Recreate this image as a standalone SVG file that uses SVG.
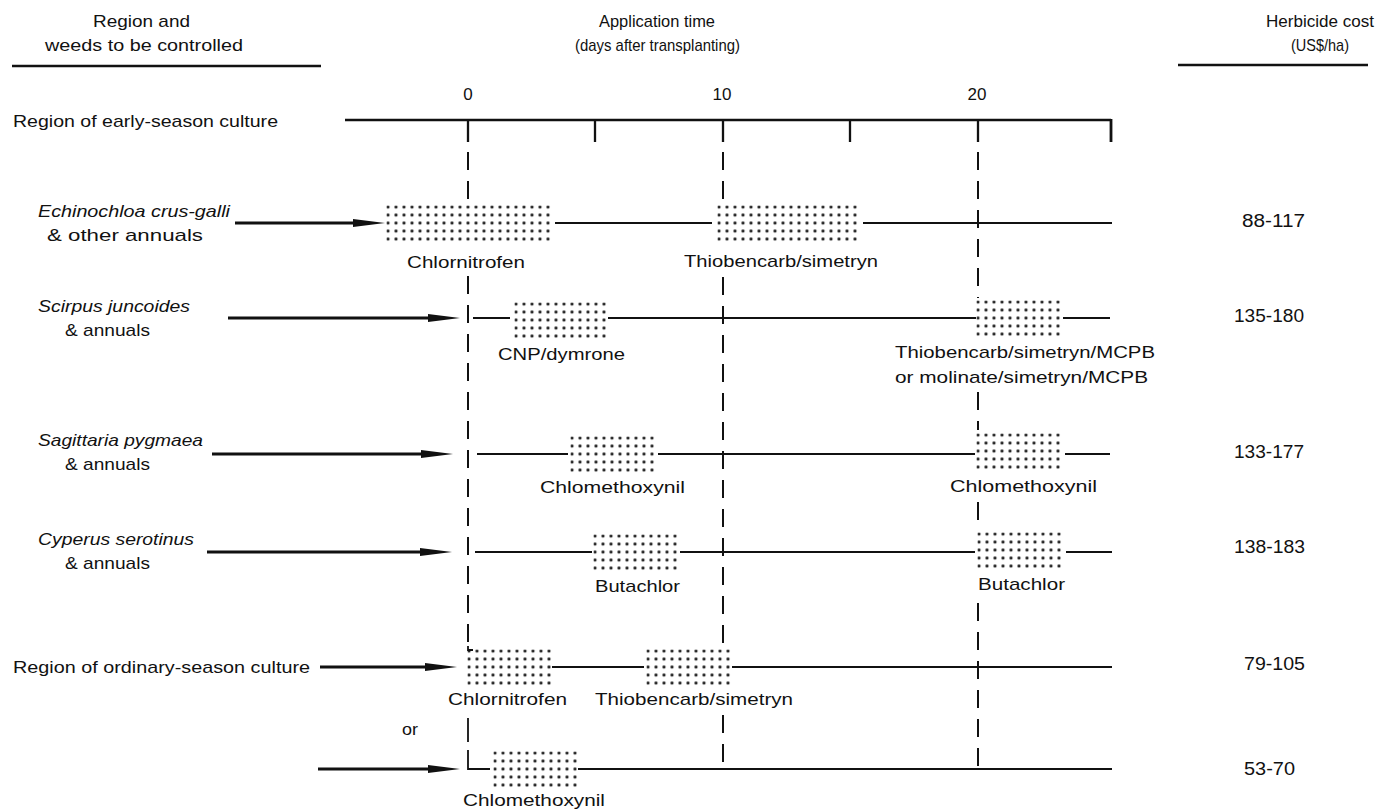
<svg xmlns="http://www.w3.org/2000/svg" width="1381" height="811" viewBox="0 0 1381 811">
<style>
text{font-family:"Liberation Sans",Arial,sans-serif;font-size:17px;fill:#111}
.it{font-style:italic}
.cost{font-size:18px}
.ln{stroke:#111;stroke-width:1.8;fill:none}
.ax{stroke:#111;stroke-width:2.3;fill:none}
.dash{stroke:#111;stroke-width:2;fill:none;stroke-dasharray:18 11}
.arr{stroke:#111;stroke-width:3;fill:none;marker-end:url(#ah)}
.dots{fill:url(#dp)}
</style>
<defs>
<pattern id="dp" patternUnits="userSpaceOnUse" width="8" height="8"><circle cx="1.6" cy="1.6" r="1.55" fill="#111"/></pattern>
<marker id="ah" markerUnits="userSpaceOnUse" markerWidth="36" markerHeight="12" refX="16" refY="5" orient="auto"><path d="M0,1 L32,5 L0,9 z" fill="#111"/></marker>
</defs>
<rect width="1381" height="811" fill="#fff"/>

<g id="header">
<text x="93" y="27" textLength="97" lengthAdjust="spacingAndGlyphs">Region and</text>
<text x="45" y="51" textLength="198" lengthAdjust="spacingAndGlyphs">weeds to be controlled</text>
<path class="ax" d="M12,66 H321"/>
<text x="599" y="27" textLength="116" lengthAdjust="spacingAndGlyphs">Application time</text>
<text x="575" y="51" textLength="165" lengthAdjust="spacingAndGlyphs">(days after transplanting)</text>
<text x="1266" y="27" textLength="108" lengthAdjust="spacingAndGlyphs">Herbicide cost</text>
<text x="1291" y="51" textLength="58" lengthAdjust="spacingAndGlyphs">(US$/ha)</text>
<path class="ax" d="M1178,65 H1368"/>
</g>

<g id="axis">
<text x="468" y="100" text-anchor="middle">0</text>
<text x="722" y="100" text-anchor="middle">10</text>
<text x="977" y="100" text-anchor="middle">20</text>
<path class="ax" d="M345,120 H1111 M468,120 V142 M595,120 V142 M723,120 V142 M850,120 V142 M978,120 V142"/>
<path d="M1111,119 V142" stroke="#111" stroke-width="2.8"/>
<text x="13" y="127" textLength="265" lengthAdjust="spacingAndGlyphs">Region of early-season culture</text>
</g>

<g id="connectors">
<path class="dash" d="M468,152 V205 M468,276 V646"/>
<path class="ln" d="M468,646 V650 H473"/>
<path class="ln" d="M468,718 V742 M468,750 V769 H490"/>
<path class="dash" d="M723,152 V204 M723,277 V648 M723,715 V769"/>
<path class="dash" d="M978,152 V298 M978,392 V430 M978,502 V530 M978,603 V769"/>
<path class="arr" d="M235,223 H369"/>
<path class="arr" d="M228,318 H444"/>
<path class="arr" d="M212,454 H437"/>
<path class="arr" d="M207,552 H436"/>
<path class="arr" d="M320,667 H441"/>
<path class="arr" d="M318,769 H444"/>
<path class="ln" d="M555,223 H712 M863,223 H1112"/>
<path class="ln" d="M473,318 H510 M608,318 H976 M1063,318 H1110"/>
<path class="ln" d="M477,454 H568 M658,454 H975 M1065,454 H1110"/>
<path class="ln" d="M475,552 H592 M680,552 H975 M1066,552 H1112"/>
<path class="ln" d="M552,667 H644 M732,667 H1112"/>
<path class="ln" d="M578,769 H1112"/>
</g>

<g id="weed-echinochloa">
<text class="it" x="38" y="217" textLength="192" lengthAdjust="spacingAndGlyphs">Echinochloa crus-galli</text>
<text x="47" y="241" textLength="156" lengthAdjust="spacingAndGlyphs">&amp; other annuals</text>
</g>
<g id="weed-scirpus">
<text class="it" x="38" y="312" textLength="152" lengthAdjust="spacingAndGlyphs">Scirpus juncoides</text>
<text x="65" y="336" textLength="85" lengthAdjust="spacingAndGlyphs">&amp; annuals</text>
</g>
<g id="weed-sagittaria">
<text class="it" x="38" y="446" textLength="165" lengthAdjust="spacingAndGlyphs">Sagittaria pygmaea</text>
<text x="65" y="470" textLength="85" lengthAdjust="spacingAndGlyphs">&amp; annuals</text>
</g>
<g id="weed-cyperus">
<text class="it" x="38" y="545" textLength="156" lengthAdjust="spacingAndGlyphs">Cyperus serotinus</text>
<text x="65" y="569" textLength="85" lengthAdjust="spacingAndGlyphs">&amp; annuals</text>
</g>
<g id="region-ordinary">
<text x="13" y="673" textLength="297" lengthAdjust="spacingAndGlyphs">Region of ordinary-season culture</text>
<text x="402" y="735" textLength="16" lengthAdjust="spacingAndGlyphs">or</text>
</g>

<g id="box-a1"><rect class="dots" transform="translate(386.4,205.4)" width="164" height="36"/>
<text x="407" y="268" textLength="118" lengthAdjust="spacingAndGlyphs">Chlornitrofen</text></g>
<g id="box-a2"><rect class="dots" transform="translate(717.4,205.4)" width="140" height="36"/>
<text x="684" y="267" textLength="194" lengthAdjust="spacingAndGlyphs">Thiobencarb/simetryn</text></g>
<g id="box-b1"><rect class="dots" transform="translate(514.4,302.4)" width="92" height="36"/>
<text x="498" y="360" textLength="127" lengthAdjust="spacingAndGlyphs">CNP/dymrone</text></g>
<g id="box-b2"><rect class="dots" transform="translate(976.4,300.4)" width="84" height="36"/>
<text x="895" y="358" textLength="260" lengthAdjust="spacingAndGlyphs">Thiobencarb/simetryn/MCPB</text>
<text x="895" y="383" textLength="253" lengthAdjust="spacingAndGlyphs">or molinate/simetryn/MCPB</text></g>
<g id="box-c1"><rect class="dots" transform="translate(570.4,436.4)" width="84" height="36"/>
<text x="540" y="493" textLength="145" lengthAdjust="spacingAndGlyphs">Chlomethoxynil</text></g>
<g id="box-c2"><rect class="dots" transform="translate(976.4,433.4)" width="84" height="36"/>
<text x="950" y="492" textLength="147" lengthAdjust="spacingAndGlyphs">Chlomethoxynil</text></g>
<g id="box-d1"><rect class="dots" transform="translate(593.4,534.4)" width="84" height="36"/>
<text x="595" y="592" textLength="85" lengthAdjust="spacingAndGlyphs">Butachlor</text></g>
<g id="box-d2"><rect class="dots" transform="translate(977.4,532.4)" width="84" height="36"/>
<text x="978" y="590" textLength="87" lengthAdjust="spacingAndGlyphs">Butachlor</text></g>
<g id="box-e1"><rect class="dots" transform="translate(467.4,649.4)" width="84" height="36"/>
<text x="448" y="705" textLength="119" lengthAdjust="spacingAndGlyphs">Chlornitrofen</text></g>
<g id="box-e2"><rect class="dots" transform="translate(646.4,649.4)" width="84" height="36"/>
<text x="595" y="705" textLength="198" lengthAdjust="spacingAndGlyphs">Thiobencarb/simetryn</text></g>
<g id="box-f"><rect class="dots" transform="translate(493.4,751.4)" width="84" height="36"/>
<text x="463" y="806" textLength="142" lengthAdjust="spacingAndGlyphs">Chlomethoxynil</text></g>

<g id="costs">
<text class="cost" x="1242" y="227" textLength="63" lengthAdjust="spacingAndGlyphs">88-117</text>
<text class="cost" x="1234" y="322" textLength="70" lengthAdjust="spacingAndGlyphs">135-180</text>
<text class="cost" x="1234" y="458" textLength="70" lengthAdjust="spacingAndGlyphs">133-177</text>
<text class="cost" x="1234" y="553" textLength="71" lengthAdjust="spacingAndGlyphs">138-183</text>
<text class="cost" x="1244" y="670" textLength="61" lengthAdjust="spacingAndGlyphs">79-105</text>
<text class="cost" x="1244" y="775" textLength="51" lengthAdjust="spacingAndGlyphs">53-70</text>
</g>
</svg>
